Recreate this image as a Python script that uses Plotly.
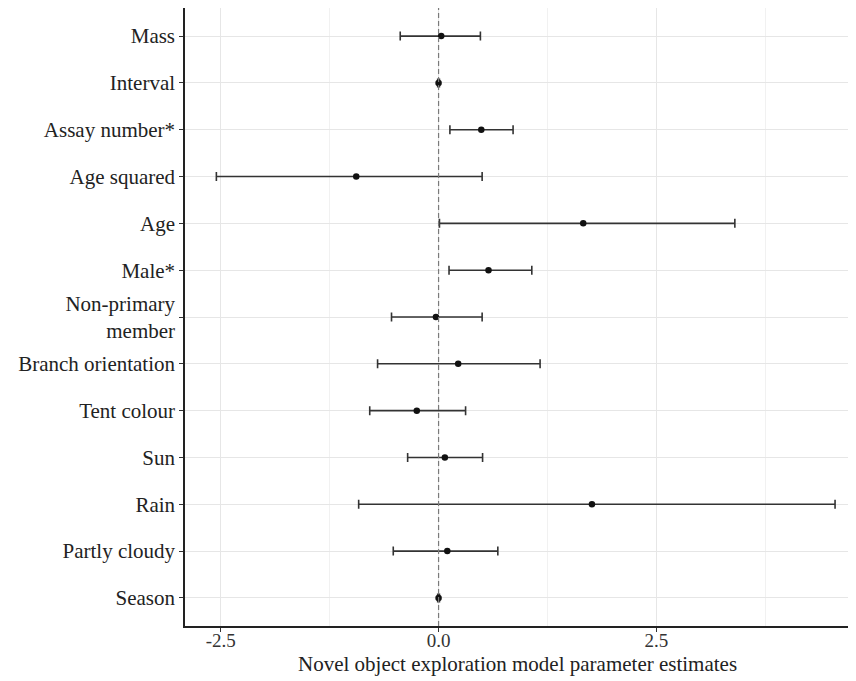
import plotly.graph_objects as go

labels = ["Mass", "Interval", "Assay number*", "Age squared", "Age", "Male*",
          "Non-primary<br>member", "Branch orientation", "Tent colour", "Sun",
          "Rain", "Partly cloudy", "Season"]
estimate = [0.03, 0.0, 0.49, -0.945, 1.66, 0.573, -0.03, 0.225, -0.25, 0.072, 1.76, 0.10, 0.0]
lower = [-0.44, -0.01, 0.13, -2.55, 0.01, 0.12, -0.54, -0.70, -0.79, -0.355, -0.917, -0.52, -0.01]
upper = [0.48, 0.01, 0.855, 0.50, 3.40, 1.07, 0.50, 1.165, 0.31, 0.505, 4.55, 0.68, 0.01]
x_ticks = [-2.5, 0.0, 2.5]
x_tick_text = ["-2.5", "0.0", "2.5"]
x_minor = [-1.25, 1.25, 3.75]
ref_line = 0.0
x_title = "Novel object exploration model parameter estimates"

err_plus = [u - e for u, e in zip(upper, estimate)]
err_minus = [e - l for e, l in zip(estimate, lower)]

FONT = "Liberation Serif, DejaVu Serif, serif"

fig = go.Figure()
fig.add_trace(go.Scatter(
    x=estimate, y=labels, mode="markers",
    marker=dict(color="#111111", size=6.5),
    error_x=dict(type="data", symmetric=False, array=err_plus, arrayminus=err_minus,
                 color="#333333", thickness=1.6, width=4.5),
    showlegend=False,
))

fig.add_vline(x=ref_line, line=dict(color="#7a7a7a", width=1.2, dash="5px,3px"), layer="above")

fig.add_annotation(
    text=x_title, xref="paper", yref="paper", x=0.5, y=0,
    xanchor="center", yanchor="middle", yshift=-38, showarrow=False,
    font=dict(family=FONT, size=21, color="#222222"),
)

fig.update_layout(
    width=848, height=673,
    margin=dict(l=177, r=7, t=0, b=55),
    paper_bgcolor="white", plot_bgcolor="white",
    font=dict(family=FONT, color="#222222", size=19),
    xaxis=dict(
        range=[-2.91, 4.71],
        tickmode="array", tickvals=x_ticks, ticktext=x_tick_text,
        showgrid=True, gridcolor="#e6e6e6", gridwidth=1,
        minor=dict(tickmode="array", tickvals=x_minor, showgrid=True,
                   gridcolor="#f1f1f1", gridwidth=1, ticks=""),
        showline=True, linecolor="#222222", linewidth=1.5,
        ticks="outside", ticklen=4, tickcolor="#333333", tickwidth=1.2,
        ticklabelstandoff=-8,
        zeroline=False, automargin=False,
        tickfont=dict(family=FONT, size=19, color="#333333"),
    ),
    yaxis=dict(
        categoryorder="array", categoryarray=labels,
        range=[len(labels) - 1 + 0.6, -0.6],
        showgrid=True, gridcolor="#e6e6e6", gridwidth=1,
        showline=True, linecolor="#222222", linewidth=1.5,
        ticks="outside", ticklen=4, tickcolor="#333333", tickwidth=1.2,
        zeroline=False, automargin=False,
        tickfont=dict(family=FONT, size=21, color="#222222"),
    ),
)

fig.write_html("out.html")
